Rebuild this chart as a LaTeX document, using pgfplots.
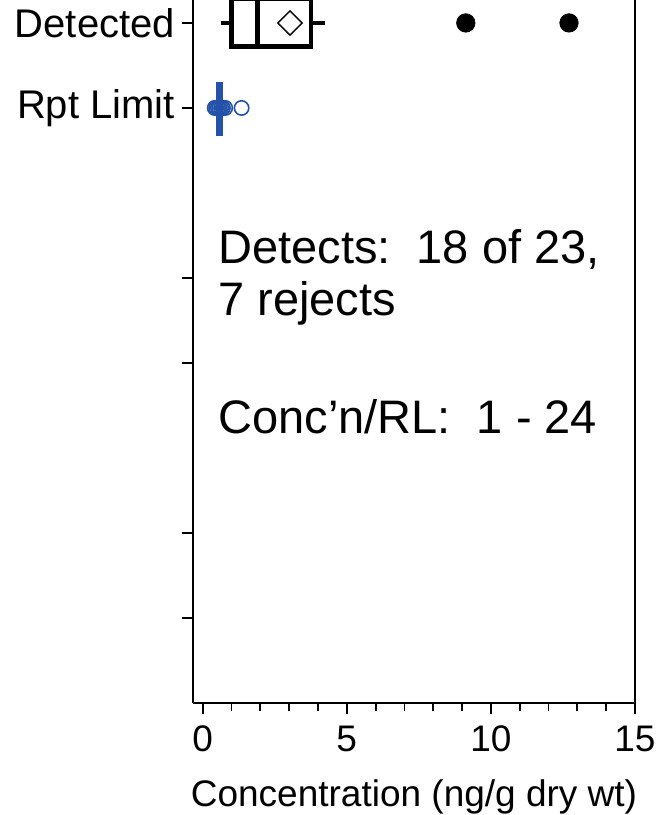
\documentclass[border=0pt]{standalone}
\usepackage{pgfplots}
\pgfplotsset{compat=1.18}
\usepackage{fontspec}
\setmainfont{Liberation Sans}
\definecolor{rlblue}{RGB}{36,82,168}
\begin{document}
\begin{tikzpicture}
\begin{axis}[
  name=ax,
  scale only axis, width=221pt, height=351.5pt,
  xmin=-0.336, xmax=15, ymin=0, ymax=8.27,
  axis x line*=bottom, axis y line*=box,
  axis line style={line width=0.9pt},
  every tick/.style={line width=0.9pt, black},
  tick align=outside,
  major tick length=5.5pt, minor tick length=4pt,
  xtick={0,5,10,15},
  minor xtick={1,2,3,4,6,7,8,9,11,12,13,14},
  xtick pos=bottom, ytick pos=left,
  ytick={1,2,4,5,7,8},
  yticklabels={,,,,Rpt Limit,Detected},
  /pgf/number format/assume math mode=true,
  xticklabel style={font=\fontsize{18.5}{22}\selectfont, yshift=-2.5pt},
  yticklabel style={font=\fontsize{20}{24}\selectfont},
  xlabel={Concentration (ng/g dry wt)},
  xlabel style={font=\fontsize{18.5}{22}\selectfont, yshift=-7pt},
  clip=false,
]
% box plot for detected values: box, median, whiskers
\addplot[black, line width=2.3pt, line join=miter, line cap=rect]
  coordinates {(1.0,7.72) (3.76,7.72) (3.76,8.28) (1.0,8.28) (1.0,7.72)};
\addplot[black, line width=2.3pt] coordinates {(1.91,7.72) (1.91,8.28)};
\addplot[black, line width=2.3pt] coordinates {(0.62,8) (1.0,8)};
\addplot[black, line width=2.3pt] coordinates {(3.76,8) (4.24,8)};
% outliers
\addplot[only marks, mark=*, mark size=4.6pt,
  mark options={fill=black, draw=black, line width=0.4pt}]
  coordinates {(9.13,8) (12.71,8)};
% mean
\addplot[only marks, mark=square, mark size=4.3pt,
  mark options={rotate=45, line width=0.7pt, draw=black, fill=none}]
  coordinates {(3.03,8)};
% reporting limits
\addplot[only marks, mark=o, mark size=3.6pt,
  mark options={draw=rlblue, line width=0.8pt}]
  coordinates {(0.42,7) (0.47,7) (0.53,7) (0.58,7) (0.64,7) (0.70,7) (0.78,7) (1.35,7)};
\addplot[rlblue, line width=3.5pt] coordinates {(0.58,6.67) (0.58,7.31)};
\node[anchor=base west, inner sep=0pt, font=\fontsize{23.5}{28}\selectfont] at (axis cs:0.53,5.176) {Detects:~~18 of 23,};
\node[anchor=base west, inner sep=0pt, font=\fontsize{23.5}{28}\selectfont] at (axis cs:0.53,4.553) {7 rejects};
\node[anchor=base west, inner sep=0pt, font=\fontsize{23.5}{28}\selectfont] at (axis cs:0.53,3.176) {Conc’n/RL:~~1 - 24};
\end{axis}
\pgfresetboundingbox
\path[use as bounding box] ([shift={(-96.5pt,-56pt)}]ax.south west) rectangle ([shift={(235pt,351.5pt)}]ax.south west);
\end{tikzpicture}
\end{document}
